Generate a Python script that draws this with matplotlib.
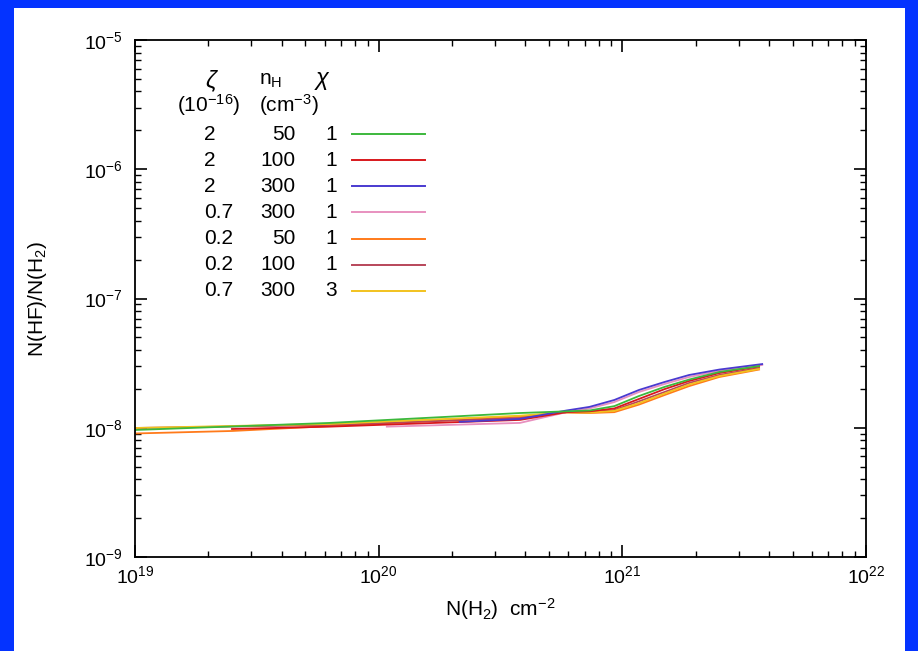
import numpy as np
import matplotlib
matplotlib.use("Agg")
import matplotlib.pyplot as plt
from matplotlib.patches import Rectangle

plt.rcParams['font.family'] = ['Liberation Sans', 'DejaVu Sans']
plt.rcParams['mathtext.fontset'] = 'custom'
plt.rcParams['mathtext.rm'] = 'Liberation Sans'
plt.rcParams['mathtext.it'] = 'Liberation Sans:italic'

# model curves: N(H2) column vs HF abundance
x_green = [1e19, 6.3e19, 3.8e20, 5.9e20, 7.33e20, 9.27e20, 1.17e21, 1.49e21, 1.88e21, 2.50e21, 3.64e21]
y_green = [9.61e-9, 1.09e-8, 1.30e-8, 1.34e-8, 1.36e-8, 1.47e-8, 1.76e-8, 2.07e-8, 2.36e-8, 2.70e-8, 3.00e-8]

x_red = [2.5e19, 6.3e19, 3.8e20, 5.9e20, 7.33e20, 9.27e20, 1.17e21, 1.49e21, 1.88e21, 2.50e21, 3.64e21]
y_red = [9.78e-9, 1.02e-8, 1.15e-8, 1.32e-8, 1.34e-8, 1.41e-8, 1.67e-8, 1.99e-8, 2.30e-8, 2.65e-8, 2.98e-8]

x_blue = [2.15e20, 3.8e20, 5.9e20, 7.33e20, 9.27e20, 1.17e21, 1.49e21, 1.88e21, 2.50e21, 3.75e21]
y_blue = [1.11e-8, 1.17e-8, 1.36e-8, 1.45e-8, 1.64e-8, 1.96e-8, 2.26e-8, 2.56e-8, 2.82e-8, 3.11e-8]

x_pink = [1.08e20, 3.8e20, 5.9e20, 7.33e20, 9.27e20, 1.17e21, 1.49e21, 1.88e21, 2.50e21, 3.75e21]
y_pink = [1.02e-8, 1.09e-8, 1.32e-8, 1.41e-8, 1.58e-8, 1.89e-8, 2.18e-8, 2.47e-8, 2.75e-8, 3.06e-8]

x_orange = [1e19, 2.5e19, 6.3e19, 3.8e20, 5.9e20, 7.33e20, 9.27e20, 1.17e21, 1.49e21, 1.88e21, 2.50e21, 3.64e21]
y_orange = [9.03e-9, 9.44e-9, 1.03e-8, 1.22e-8, 1.31e-8, 1.30e-8, 1.32e-8, 1.51e-8, 1.79e-8, 2.10e-8, 2.47e-8, 2.82e-8]

x_brown = [1e19, 6.3e19, 3.8e20, 5.9e20, 7.33e20, 9.27e20, 1.17e21, 1.49e21, 1.88e21, 2.50e21, 3.64e21]
y_brown = [9.96e-9, 1.05e-8, 1.19e-8, 1.32e-8, 1.32e-8, 1.37e-8, 1.60e-8, 1.89e-8, 2.22e-8, 2.56e-8, 2.90e-8]

x_yellow = [1e19, 6.3e19, 3.8e20, 5.9e20, 7.33e20, 9.27e20, 1.17e21, 1.49e21, 1.88e21, 2.50e21, 3.64e21]
y_yellow = [9.96e-9, 1.07e-8, 1.24e-8, 1.32e-8, 1.31e-8, 1.35e-8, 1.55e-8, 1.84e-8, 2.16e-8, 2.51e-8, 2.85e-8]

# legend table
zeta = ['2', '2', '2', '0.7', '0.2', '0.2', '0.7']
n_h = ['50', '100', '300', '300', '50', '100', '300']
chi = ['1', '1', '1', '1', '1', '1', '3']
colors = ['#3cb83c', '#d8181c', '#4a3ad0', '#e890bf', '#ff7a1a', '#b8465a', '#f2c21e']

xs = [x_green, x_red, x_blue, x_pink, x_orange, x_brown, x_yellow]
ys = [y_green, y_red, y_blue, y_pink, y_orange, y_brown, y_yellow]

fig = plt.figure(figsize=(9.18, 6.51), dpi=100)
fig.patch.set_facecolor('#0433ff')
# white slide area inside blue frame
fig.patches.append(Rectangle((14/918, 0), (905-14)/918, (651-8)/651,
                             transform=fig.transFigure, facecolor='white',
                             edgecolor='none', zorder=-10))

ax = fig.add_axes([135/918, 1-557/651, 731/918, 517/651])

# draw back to front so green sits on top like the original
for i in [4, 5, 6, 3, 1, 2, 0]:
    ax.plot(xs[i], ys[i], color=colors[i], lw=1.3)

ax.set_xscale('log')
ax.set_yscale('log')
ax.set_xlim(1e19, 1e22)
ax.set_ylim(1e-9, 1e-5)

ax.tick_params(which='both', direction='in', top=True, right=True, labelsize=14)
ax.tick_params(axis='y', which='major', pad=9)
ax.tick_params(axis='x', which='major', pad=6)
ax.tick_params(which='major', length=8.5, width=1.2)
ax.tick_params(which='minor', length=4.5, width=1.0)
for s in ax.spines.values():
    s.set_linewidth(1.3)

ax.set_xlabel(r'N(H$_2$)  cm$^{-2}$', fontsize=15)
ax.set_ylabel(r'N(HF)/N(H$_2$)', fontsize=15)
ax.xaxis.set_label_coords(0.5, -0.075)
ax.yaxis.set_label_coords(-0.118, 0.5)

# legend as a small table
fs = 15
ax.text(0.105, 0.921, r'$\zeta$', transform=ax.transAxes, ha='center', va='center', fontsize=17)
ax.text(0.185, 0.921, r'n$_\mathrm{H}$', transform=ax.transAxes, ha='center', va='center', fontsize=fs)
ax.text(0.256, 0.921, r'$\chi$', transform=ax.transAxes, ha='center', va='center', fontsize=17)
ax.text(0.101, 0.874, r'(10$^{-16}$)', transform=ax.transAxes, ha='center', va='center', fontsize=fs)
ax.text(0.211, 0.874, r'(cm$^{-3}$)', transform=ax.transAxes, ha='center', va='center', fontsize=fs)

row0 = 0.818
dy = 0.0505
for k in range(len(zeta)):
    yy = row0 - k*dy
    ax.text(0.094, yy, zeta[k], transform=ax.transAxes, ha='left', va='center', fontsize=fs)
    ax.text(0.220, yy, n_h[k], transform=ax.transAxes, ha='right', va='center', fontsize=fs)
    ax.text(0.276, yy, chi[k], transform=ax.transAxes, ha='right', va='center', fontsize=fs)
    ax.plot([0.297, 0.397], [yy, yy], transform=ax.transAxes, color=colors[k], lw=1.4)

fig.savefig('out.png', dpi=100, facecolor=fig.get_facecolor())
